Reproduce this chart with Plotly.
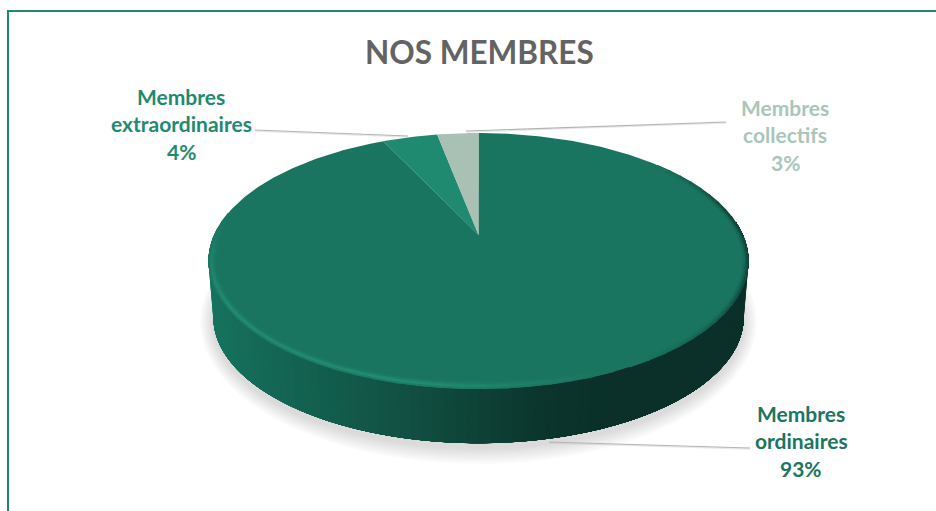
import numpy as np
import plotly.graph_objects as go

# ---- data ----
categories = ["Membres ordinaires", "Membres extraordinaires", "Membres collectifs"]
values = [93, 4, 3]
label_lines = [["Membres", "ordinaires"], ["Membres", "extraordinaires"], ["Membres", "collectifs"]]
top_colors = ["#1a7560", "#1f8a70", "#a9c1b5"]
label_colors = ["#1a7561", "#1f8a70", "#a9c6ba"]
title_text = "NOS MEMBRES"

# ---- layout constants (pixel space of the chart) ----
W, H = 936, 511
CX, APEX_Y, YC = 478.5, 235.0, 261.0
PERSP, KY, KX = 0.203, -75.0, 264.4
DEPTH, BOT_SCALE = 56.5, 0.982
label_pos = [(801, 413.5), (181, 96.5), (785, 107.5)]
LINE_STEP = 27.3
leaders = [((549, 442), (750, 448)), ((255, 130), (408, 136)), ((466, 131), (726, 122))]


def project(theta):
    """theta in radians, clockwise from the top of the disc."""
    u, v = np.sin(theta), np.cos(theta)
    w = 1 + PERSP * v
    return CX + KX * u / w, (KY * v + APEX_Y) / w


def bottom(theta):
    x, y = project(theta)
    return CX + (x - CX) * BOT_SCALE, YC + DEPTH + (y - YC) * BOT_SCALE


def mix_stops(stops, x):
    xs = [s[0] for s in stops]
    return [float(np.interp(x, xs, [s[1][i] for s in stops])) for i in range(3)]


def rgb(c):
    return f"rgb({c[0]:.0f},{c[1]:.0f},{c[2]:.0f})"


def blend(a, b, t):
    return [a[i] + (b[i] - a[i]) * t for i in range(3)]


side_stops = [
    (209, (22, 115, 94)), (260, (20, 104, 85)), (330, (18, 92, 76)), (400, (17, 80, 66)),
    (470, (14, 66, 55)), (540, (11, 52, 44)), (600, (10, 48, 41)), (749, (10, 48, 41)),
]
TOP_RGB = (26, 117, 96)
LIGHT_RGB = (44, 155, 128)
DARK_RGB = (10, 48, 41)

fig = go.Figure()


def poly(xs, ys, color):
    fig.add_trace(go.Scatter(
        x=list(xs), y=list(ys), mode="lines", fill="toself", fillcolor=color,
        line=dict(color="rgba(0,0,0,0)", width=0), hoverinfo="skip", showlegend=False,
    ))


def stroke(xs, ys, color, width):
    fig.add_trace(go.Scatter(
        x=list(xs), y=list(ys), mode="lines", line=dict(color=color, width=width),
        hoverinfo="skip", showlegend=False,
    ))


# soft shadow beneath the disc
full = np.linspace(0, 2 * np.pi, 181)
bx, by = bottom(full)
for grow in range(12, 0, -1):
    sx = CX + (bx - CX) * (1 + grow * 0.0042)
    sy = 322 + (by - 317.5) * (1 + grow * 0.011)
    poly(sx, sy, "rgba(90,90,90,0.016)")

# side wall: painted from left to right, each strip reaching the far right end,
# so that no seam can show between neighbours
edges = np.radians(np.linspace(276, 84, 97))  # 276 = left end, 84 = right end
for a in edges[:-1]:
    seg = np.radians(np.linspace(np.degrees(a), 84, 60))
    tx, ty = project(seg)
    ux, uy = bottom(seg)
    poly(np.r_[tx, ux[::-1]], np.r_[ty, uy[::-1]], rgb(mix_stops(side_stops, float(tx[0]))))

# top face: one wedge per value, starting at 12 o'clock, clockwise
total = sum(values)
start = 0.0
for val, col in zip(values, top_colors):
    sweep = 2 * np.pi * val / total
    th = np.linspace(start, start + sweep, max(8, int(val * 6)))
    ex, ey = project(th)
    poly(np.r_[CX, ex, CX], np.r_[APEX_Y, ey, APEX_Y], col)
    start += sweep

# bevel on the rim: light lower-left, dark on the right; soft by stacking offsets
rim_deg = np.linspace(50, 280, 60)
falloff_light = [0.35, 1.0, 0.75, 0.4, 0.15]
falloff_dark = [1.0, 0.6, 0.3, 0.1, 0.0]
for k in range(4, -1, -1):
    for a, b in zip(rim_deg[:-1], rim_deg[1:]):
        deg = (a + b) / 2
        th = np.radians(np.array([a, b + (b - a) * 0.15]))
        sx, sy = project(th)
        dx, dy = sx - CX, sy - YC
        n = np.hypot(dx, dy)
        ox, oy = sx - dx / n * (k * 1.5 + 0.8), sy - dy / n * (k * 1.5 + 0.8)
        light = np.interp(deg, [155, 190, 240, 262, 280], [0, 0.62, 0.62, 0.3, 0]) * falloff_light[k]
        dark = np.interp(deg, [50, 80, 110, 150], [0, 0.7, 0.6, 0]) * falloff_dark[k]
        if light <= 0.005 and dark <= 0.005:
            continue
        c = blend(blend(TOP_RGB, LIGHT_RGB, light), DARK_RGB, dark)
        stroke(ox, oy, rgb(c), 2)

# leader lines
for (p, q) in leaders:
    stroke([p[0], q[0]], [p[1] + 1, q[1] + 1], "rgba(190,190,190,0.35)", 1.5)
    stroke([p[0], q[0]], [p[1], q[1]], "#b4b4b4", 1.2)

annotations = [dict(
    x=479, y=52, xref="x", yref="y", text=f"<b>{title_text}</b>", showarrow=False,
    font=dict(family="Lato", size=31.5, color="#636363"), xanchor="center", yanchor="middle",
)]
for lines, val, col, (lx, ly) in zip(label_lines, values, label_colors, label_pos):
    for i, line in enumerate(lines + [f"{val}%"]):
        annotations.append(dict(
            x=lx, y=ly + i * LINE_STEP, xref="x", yref="y", text=f"<b>{line}</b>",
            showarrow=False, xanchor="center", yanchor="middle",
            font=dict(family="Lato", size=21, color=col),
        ))

fig.update_layout(
    width=W, height=H, autosize=False,
    margin=dict(l=0, r=0, t=0, b=0, pad=0),
    paper_bgcolor="white", plot_bgcolor="white", showlegend=False,
    xaxis=dict(range=[0, W], visible=False, fixedrange=True),
    yaxis=dict(range=[H, 0], visible=False, fixedrange=True),
    annotations=annotations,
    shapes=[
        dict(type="line", xref="x", yref="y", x0=8, x1=8, y0=10, y1=H, line=dict(color="#1f8a70", width=2)),
        dict(type="line", xref="x", yref="y", x0=7, x1=W, y0=11, y1=11, line=dict(color="#1f8a70", width=2)),
    ],
)
fig.write_html(
    "out.html",
    config={"displayModeBar": False},
    post_script="document.body.style.margin='0';document.documentElement.style.overflow='hidden';",
)
